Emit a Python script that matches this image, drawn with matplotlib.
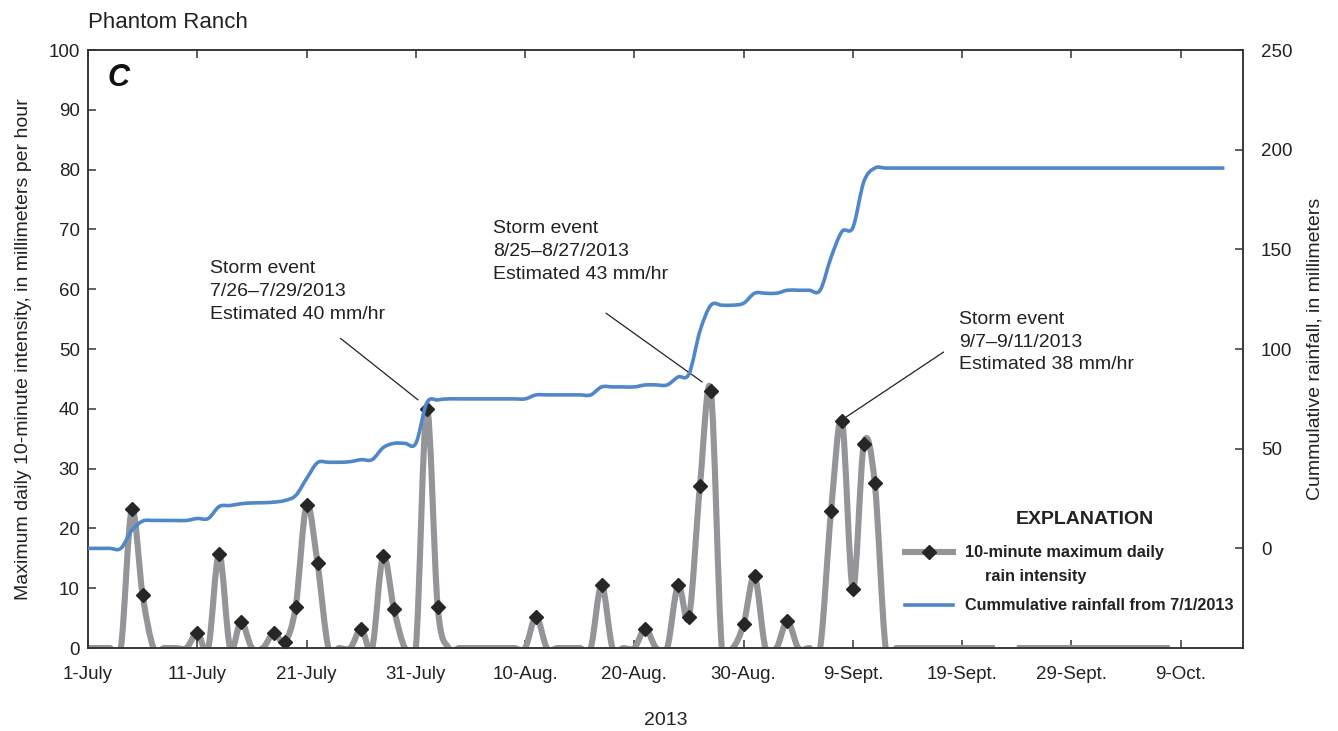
import numpy as np
import matplotlib
matplotlib.use('Agg')
import matplotlib.pyplot as plt
from matplotlib.path import Path
from matplotlib.patches import PathPatch
from matplotlib.lines import Line2D

plt.rcParams['font.family'] = ['Liberation Sans', 'DejaVu Sans']

# days counted from 1 July 2013
tick_days = [0, 10, 20, 30, 40, 50, 60, 70, 80, 90, 100]
tick_labels = ['1-July', '11-July', '21-July', '31-July', '10-Aug.', '20-Aug.',
               '30-Aug.', '9-Sept.', '19-Sept.', '29-Sept.', '9-Oct.']

# 10-minute maximum daily rain intensity (mm/hr); all other days are 0
rain_days = [4, 5, 10, 12, 14, 17, 18, 19, 20, 21, 25, 27, 28, 31, 32, 41, 47, 51,
             54, 55, 56, 57, 60, 61, 64, 68, 69, 70, 71, 72]
rain_intensity = [23.2, 8.8, 2.5, 15.8, 4.4, 2.5, 1.0, 6.9, 23.9, 14.2, 3.2, 15.4, 6.5,
                  40, 6.9, 5.2, 10.5, 3.2, 10.5, 5.2, 27.1, 43, 4.0, 12.0, 4.5, 22.9,
                  38, 9.9, 34.1, 27.6]
record_last_day = 99
missing_days = [84]

# cumulative rainfall from 7/1/2013 (mm), one value per day
cum_rain = [0, 0, 0, 0, 9, 13.7, 14, 14, 14, 14,
            15, 15, 21, 21.5, 22.4, 22.8, 22.9, 23.2, 24, 26.5,
            35, 43, 43.2, 43.2, 43.5, 44.5, 44.5, 50.5, 52.7, 52.7,
            52.7, 73, 74.5, 75, 75, 75, 75, 75, 75, 75,
            75, 77, 77, 77, 77, 77, 77, 81, 81, 81,
            81, 82, 82, 82, 86, 87.5, 109, 122, 122, 122,
            123, 128, 128, 128, 129.5, 129.5, 129.5, 129.5, 146, 159,
            161, 184, 190.8] + [190.8] * 32

storms = [
    ('Storm event\n7/26\u20137/29/2013\nEstimated 40 mm/hr', (11.2, 64.9), (23.1, 51.8), (30.2, 41.5)),
    ('Storm event\n8/25\u20138/27/2013\nEstimated 43 mm/hr', (37.05, 71.5), (47.4, 56.0), (56.2, 44.5)),
    ('Storm event\n9/7\u20139/11/2013\nEstimated 38 mm/hr', (79.7, 56.4), (78.3, 49.5), (69.35, 38.6)),
]


def smooth_path(xs, ys):
    # spreadsheet-style smoothed line: cubic Bezier pieces through every point
    verts, codes = [], []
    pts = np.column_stack([xs, ys]).astype(float)
    n = len(pts)
    verts.append(pts[0])
    codes.append(Path.MOVETO)
    for i in range(n - 1):
        p0 = pts[i - 1] if i > 0 else pts[i]
        p1 = pts[i]
        p2 = pts[i + 1]
        p3 = pts[i + 2] if i + 2 < n else pts[i + 1]
        verts += [p1 + (p2 - p0) / 6.0, p2 - (p3 - p1) / 6.0, p2]
        codes += [Path.CURVE4] * 3
    return Path(verts, codes)


gray = '#949598'
blue = '#4f87c9'
dark = '#262626'
ink = '#222222'

days = np.arange(record_last_day + 1)
intensity = np.zeros(len(days))
intensity[rain_days] = rain_intensity
intensity[missing_days] = np.nan

fig = plt.figure(figsize=(13.38, 7.31), dpi=100)
ax = fig.add_axes([0.0658, 0.1135, 0.8632, 0.818])
ax2 = ax.twinx()

# intensity line, broken where a day has no record
ok = ~np.isnan(intensity)
edges = np.flatnonzero(np.diff(np.r_[0, ok.astype(int), 0]))
for start, stop in zip(edges[::2], edges[1::2]):
    seg = PathPatch(smooth_path(days[start:stop], intensity[start:stop]), fill=False,
                    edgecolor=gray, lw=4.4, capstyle='butt', joinstyle='round', zorder=2)
    ax.add_patch(seg)
ax.plot(rain_days, rain_intensity, linestyle='none', marker='D', markersize=7.5,
        color=dark, zorder=3)

cum_days = np.arange(len(cum_rain))
ax2.add_patch(PathPatch(smooth_path(cum_days, cum_rain), fill=False, edgecolor=blue,
                        lw=2.6, capstyle='butt', joinstyle='round', zorder=4))

ax.set_xlim(0, 105.7)
ax.set_ylim(0, 100)
ax2.set_ylim(-50, 250)
ax.set_xticks(tick_days)
ax.set_xticklabels(tick_labels)
ax.set_yticks(range(0, 101, 10))
ax2.set_yticks(range(0, 251, 50))

for a in (ax, ax2):
    for s in a.spines.values():
        s.set_color('#333333')
        s.set_linewidth(1.1)
ax.tick_params(axis='x', direction='in', top=True, length=6, width=1.1,
               labelsize=13.5, pad=13, colors='#333333', labelcolor=ink)
ax.tick_params(axis='y', direction='in', length=6, width=1.1, labelsize=13.5, pad=6,
               colors='#333333', labelcolor=ink)
ax2.tick_params(axis='y', direction='in', length=6, width=1.1, labelsize=13.5, pad=13,
                colors='#333333', labelcolor=ink)

ax.set_xlabel('2013', fontsize=14, labelpad=21, color=ink)
ax.set_ylabel('Maximum daily 10-minute intensity, in millimeters per hour', fontsize=14,
              labelpad=12, color=ink)
ax2.set_ylabel('Cummulative rainfall, in millimeters', fontsize=14, labelpad=10,
               color=ink)

fig.text(88 / 1338, 1 - 22 / 731, 'Phantom Ranch', fontsize=16, va='center', ha='left',
         color=ink)
ax.text(0.017, 0.978, 'C', transform=ax.transAxes, fontsize=22, fontweight='bold',
        style='italic', va='top', ha='left', color='#111111')

for label, text_xy, line_start, line_end in storms:
    ax.text(text_xy[0], text_xy[1], label, fontsize=14, va='top', ha='left',
            linespacing=1.45, color=ink)
    ax.annotate('', xy=line_end, xytext=line_start,
                arrowprops=dict(arrowstyle='-', color=ink, lw=0.9,
                                shrinkA=0, shrinkB=0))

# explanation block
key = ax2.transAxes
ax2.text(0.8632, 0.2157, 'EXPLANATION', transform=key, fontsize=14, fontweight='bold',
         ha='center', va='center', color=ink)
ax2.add_line(Line2D([0.7074, 0.7489], [0.1605, 0.1605], transform=key, color=gray,
                    lw=4.4, clip_on=False))
ax2.add_line(Line2D([0.7281], [0.1605], transform=key, linestyle='none', marker='D',
                    markersize=7.5, color=dark, clip_on=False))
ax2.add_line(Line2D([0.7074, 0.7489], [0.0719, 0.0719], transform=key, color=blue,
                    lw=2.6, clip_on=False))
ax2.text(0.7593, 0.1605, '10-minute maximum daily', transform=key, fontsize=11.7,
         fontweight='bold', ha='left', va='center', color=ink)
ax2.text(0.7766, 0.1204, 'rain intensity', transform=key, fontsize=11.7,
         fontweight='bold', ha='left', va='center', color=ink)
ax2.text(0.7593, 0.0719, 'Cummulative rainfall from 7/1/2013', transform=key, fontsize=11.7,
         fontweight='bold', ha='left', va='center', color=ink)

fig.savefig('out.png', dpi=100)
